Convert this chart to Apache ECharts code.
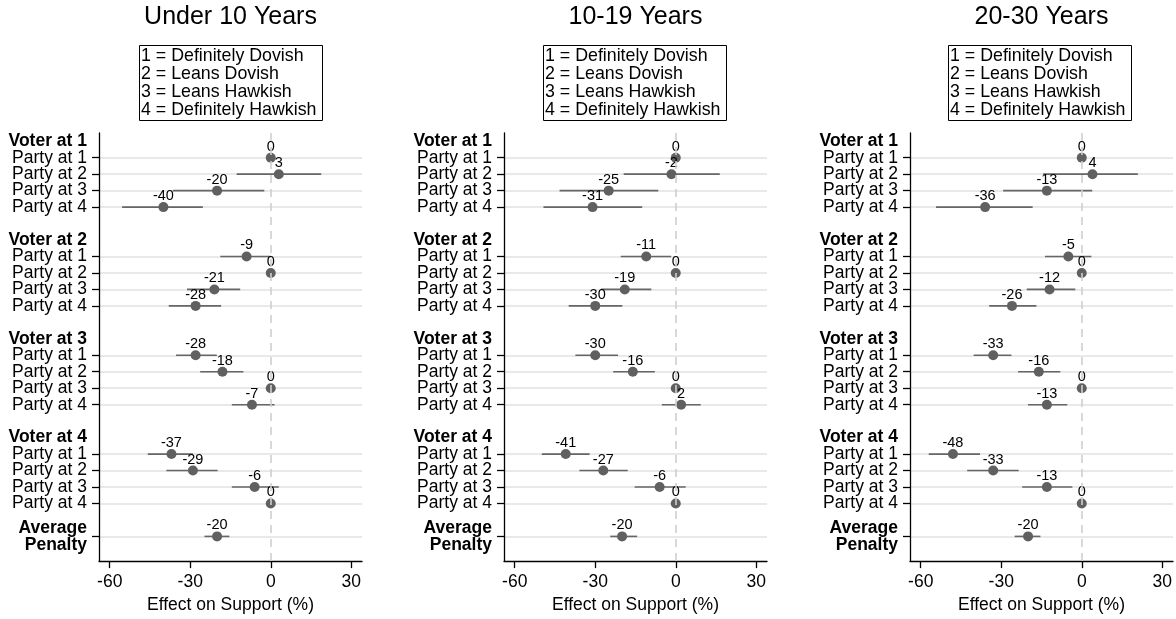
<!DOCTYPE html>
<html>
<head>
<meta charset="utf-8">
<script src="https://cdn.jsdelivr.net/npm/echarts@6/dist/echarts.min.js"></script>
<style>
  html, body { margin: 0; padding: 0; background: #fff; }
  #chart { width: 1176px; height: 619px; }
</style>
</head>
<body>
<div id="chart"></div>
<script>
// ---------- data ----------
const panelTitles = ['Under 10 Years', '10-19 Years', '20-30 Years'];
const legendLines = ['1 = Definitely Dovish', '2 = Leans Dovish', '3 = Leans Hawkish', '4 = Definitely Hawkish'];

// row index -> y-axis label (header rows are bold)
const rowLabels = [
  'Voter at 1', 'Party at 1', 'Party at 2', 'Party at 3', 'Party at 4', '',
  'Voter at 2', 'Party at 1', 'Party at 2', 'Party at 3', 'Party at 4', '',
  'Voter at 3', 'Party at 1', 'Party at 2', 'Party at 3', 'Party at 4', '',
  'Voter at 4', 'Party at 1', 'Party at 2', 'Party at 3', 'Party at 4', '',
  'Average\nPenalty'
];
const headerRows = [0, 6, 12, 18, 24];
// -0.5 and 25.5 are empty edge placeholders so no real label is treated as the min/max label
const labelRows = [-0.5, 0, 1, 2, 3, 4, 6, 7, 8, 9, 10, 12, 13, 14, 15, 16, 18, 19, 20, 21, 22, 24, 25.5];
const dataRows = [1, 2, 3, 4, 7, 8, 9, 10, 13, 14, 15, 16, 19, 20, 21, 22, 24];
const xTicks = [-60, -30, 0, 30];

const under10Est = [0, 3, -20, -40, -9, 0, -21, -28, -28, -18, 0, -7, -37, -29, -6, 0, -20];
const under10Lo  = [null, -12.7, -36.5, -55.4, -18.8, null, -31.2, -38.0, -35.3, -26.3, null, -14.5, -45.8, -38.9, -14.5, null, -24.7];
const under10Hi  = [null, 18.8, -2.4, -25.3, 0.0, null, -11.4, -18.5, -20.1, -10.2, null, 1.4, -29.0, -19.8, 3.0, null, -15.4];

const y10to19Est = [0, -1.6, -25, -31, -11, 0, -19, -30, -30, -16, 0, 2, -41, -27, -6, 0, -20];
const y10to19Lo  = [null, -19.4, -43.3, -49.3, -20.5, null, -27.8, -39.9, -37.4, -23.3, null, -5.2, -49.9, -35.9, -15.3, null, -24.4];
const y10to19Hi  = [null, 16.4, -6.5, -12.5, -1.7, null, -9.1, -19.9, -21.5, -7.8, null, 9.3, -32.1, -17.9, 3.7, null, -14.4];

const y20to30Est = [0, 4, -13, -36, -5, 0, -12, -26, -33, -16, 0, -13, -48, -33, -13, 0, -20];
const y20to30Lo  = [null, -14.4, -29.3, -54.3, -13.7, null, -20.5, -34.5, -40.3, -23.7, null, -20.0, -57.0, -42.7, -22.2, null, -25.0];
const y20to30Hi  = [null, 20.9, 3.9, -18.3, 3.6, null, -2.4, -16.9, -26.2, -8.0, null, -5.4, -37.9, -23.5, -3.5, null, -15.4];

const panels = [
  { est: under10Est, lo: under10Lo, hi: under10Hi },
  { est: y10to19Est, lo: y10to19Lo, hi: y10to19Hi },
  { est: y20to30Est, lo: y20to30Lo, hi: y20to30Hi }
];

// ---------- layout / style ----------
const FONT = '"Liberation Sans", Arial, Helvetica, sans-serif';
const gridLefts = [99, 504, 910];
const gridW = 263, gridTop = 133, gridH = 433;
const legendLefts = [139, 543, 948];
const dotColor = '#606060';

const grids = [], xAxes = [], yAxes = [], series = [], titles = [];

panels.forEach((p, i) => {
  grids.push({ left: gridLefts[i], top: gridTop, width: gridW, height: gridH, containLabel: false });

  titles.push({
    text: panelTitles[i],
    left: gridLefts[i] + gridW / 2,
    top: 5,
    textAlign: 'center',
    padding: 0,
    textStyle: { fontFamily: FONT, fontSize: 25, fontWeight: 'normal', color: '#000' }
  });
  titles.push({
    text: legendLines.join('\n'),
    left: legendLefts[i],
    top: 45,
    padding: [2, 6, 2, 2],
    borderWidth: 1,
    borderColor: '#000',
    textStyle: { fontFamily: FONT, fontSize: 17.8, lineHeight: 18, fontWeight: 'normal', color: '#000' }
  });

  xAxes.push({
    type: 'value', gridIndex: i, min: -64, max: 34, position: 'bottom',
    name: 'Effect on Support (%)', nameLocation: 'middle', nameGap: 30,
    nameTextStyle: { fontFamily: FONT, fontSize: 17.5, color: '#000' },
    axisLine: { show: true, onZero: false, lineStyle: { color: '#000', width: 1.3 } },
    axisTick: { show: true, length: 7, customValues: xTicks, lineStyle: { color: '#000', width: 1.3 } },
    axisLabel: { customValues: xTicks, margin: 12, fontFamily: FONT, fontSize: 17.5, color: '#000' },
    splitLine: { show: false }
  });

  yAxes.push({
    type: 'value', gridIndex: i, inverse: true, min: -0.5, max: 25.5, position: 'left',
    axisLine: { show: true, onZero: false, lineStyle: { color: '#000', width: 1.3 } },
    axisTick: { show: true, length: 7, customValues: dataRows, lineStyle: { color: '#000', width: 1.3 } },
    axisLabel: {
      customValues: labelRows, margin: 12, fontFamily: FONT, fontSize: 17.5, color: '#000',
      align: 'right', lineHeight: 14, showMinLabel: false, showMaxLabel: false, hideOverlap: false,
      formatter: v => {
        if (!Number.isInteger(v)) return '';
        const t = rowLabels[v] || '';
        if (v === 24) return t.split('\n').map(s => '{a|' + s + '}').join('\n');
        if (headerRows.indexOf(v) >= 0) return '{b|' + t + '}';
        return t;
      },
      rich: {
        b: { fontFamily: FONT, fontSize: 17.5, fontWeight: 'bold', color: '#000', lineHeight: 14 },
        a: { fontFamily: FONT, fontSize: 17.5, fontWeight: 'bold', color: '#000', lineHeight: 17 }
      }
    },
    splitLine: { show: true, lineStyle: { color: '#e2e2e2', width: 1.5 } }
  });

  const ciData = [];
  const dotData = [];
  dataRows.forEach((r, k) => {
    dotData.push([p.est[k], r]);
    if (p.lo[k] !== null) ciData.push([p.lo[k], p.hi[k], r]);
  });

  series.push({
    type: 'custom', xAxisIndex: i, yAxisIndex: i, silent: true, z: 3,
    encode: { x: [0, 1], y: 2 },
    data: ciData,
    renderItem: (params, api) => {
      const a = api.coord([api.value(0), api.value(2)]);
      const b = api.coord([api.value(1), api.value(2)]);
      return { type: 'line', shape: { x1: a[0], y1: a[1], x2: b[0], y2: b[1] },
               style: { stroke: '#666', lineWidth: 1.6 } };
    },
    markLine: {
      silent: true, symbol: 'none', label: { show: false },
      lineStyle: { color: '#cfcfcf', width: 1.6, type: [8, 6] },
      data: [{ xAxis: 0 }]
    }
  });

  series.push({
    type: 'scatter', xAxisIndex: i, yAxisIndex: i, z: 4,
    symbol: 'circle', symbolSize: 10,
    itemStyle: { color: dotColor, opacity: 1 },
    data: dotData,
    label: {
      show: true, position: 'top', distance: -1.5,
      fontFamily: FONT, fontSize: 14.5, color: '#000',
      formatter: d => String(Math.round(d.value[0]))
    }
  });
});

const chart = echarts.init(document.getElementById('chart'), null, { renderer: 'canvas' });
chart.setOption({
  animation: false,
  backgroundColor: '#fff',
  title: titles,
  grid: grids,
  xAxis: xAxes,
  yAxis: yAxes,
  series: series
});
</script>
</body>
</html>
